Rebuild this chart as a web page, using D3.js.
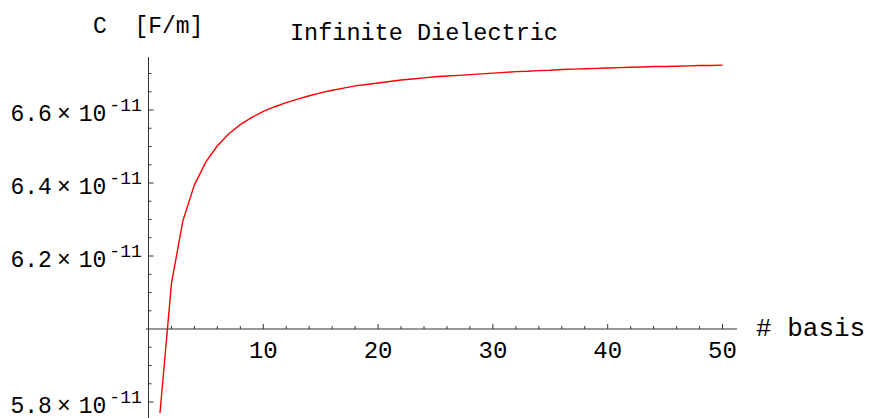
<!DOCTYPE html>
<html><head><meta charset="utf-8">
<script src="https://cdn.jsdelivr.net/npm/d3@7"></script>
<style>body{margin:0;background:#fff}svg{display:block}</style>
</head><body>
<svg id="c" width="869" height="418"></svg>
<script>
const basisCounts = d3.range(1, 51);
const capacitance = [
 5.770, 6.125, 6.297, 6.395, 6.458, 6.502, 6.535, 6.560, 6.580, 6.596,
 6.609, 6.620, 6.630, 6.639, 6.647, 6.654, 6.660, 6.666, 6.670, 6.674,
 6.678, 6.682, 6.685, 6.688, 6.691, 6.693, 6.695, 6.697, 6.699, 6.701,
 6.703, 6.705, 6.706, 6.708, 6.709, 6.711, 6.712, 6.713, 6.714, 6.715,
 6.716, 6.717, 6.718, 6.719, 6.719, 6.720, 6.721, 6.722, 6.722, 6.723
]; // units of 1e-11 F/m
const exponent = -11;
const xMajorTicks = [10, 20, 30, 40, 50];
const yMajorTicks = [5.8, 6.2, 6.4, 6.6];
const titleText = "Infinite Dielectric";
const xLabel = "# basis";
const yLabel = "C  [F/m]";

const svg = d3.select("#c");
const x = d3.scaleLinear().domain([0, 50]).range([148.5, 722.5]);
const y = d3.scaleLinear().domain([6.0, 6.6]).range([329, 110]);
const axisColor = "#333";
const mono = "Liberation Mono";

// x axis line
svg.append("line").attr("x1", 146).attr("x2", 737).attr("y1", y(6.0)).attr("y2", y(6.0))
  .attr("stroke", axisColor).attr("stroke-width", 1);
// y axis line
svg.append("line").attr("x1", x(0)).attr("x2", x(0)).attr("y1", 57).attr("y2", 418)
  .attr("stroke", axisColor).attr("stroke-width", 1);

// x ticks
const xMinor = d3.range(2, 51, 2).filter(v => !xMajorTicks.includes(v));
svg.selectAll(".xmin").data(xMinor).join("line")
  .attr("x1", d => x(d)).attr("x2", d => x(d)).attr("y1", y(6.0)).attr("y2", y(6.0) - 3)
  .attr("stroke", axisColor);
svg.selectAll(".xmaj").data(xMajorTicks).join("line")
  .attr("x1", d => x(d)).attr("x2", d => x(d)).attr("y1", y(6.0)).attr("y2", y(6.0) - 5)
  .attr("stroke", axisColor);
svg.selectAll(".xlab").data(xMajorTicks).join("text")
  .attr("x", d => x(d)).attr("y", 358).attr("text-anchor", "middle")
  .attr("font-family", mono).attr("font-size", 24).attr("fill", "#000")
  .text(d => d);

// y ticks
const yMinor = d3.range(0, 20).map(i => +(5.75 + i * 0.05).toFixed(2))
  .filter(v => !yMajorTicks.includes(v) && v !== 6.0);
svg.selectAll(".ymin").data(yMinor).join("line")
  .attr("x1", x(0)).attr("x2", x(0) + 3).attr("y1", d => y(d)).attr("y2", d => y(d))
  .attr("stroke", axisColor);
svg.selectAll(".ymaj").data(yMajorTicks).join("line")
  .attr("x1", x(0)).attr("x2", x(0) + 5).attr("y1", d => y(d)).attr("y2", d => y(d))
  .attr("stroke", axisColor);
const yl = svg.selectAll(".ylab").data(yMajorTicks).join("text")
  .attr("x", 10.5).attr("y", d => y(d) + 11)
  .attr("font-family", mono).attr("font-size", 23).attr("fill", "#000");
yl.append("tspan").text(d => d.toFixed(1));
yl.append("tspan").attr("dx", 5).text("\u00d7");
yl.append("tspan").attr("dx", 8).text("10");
yl.append("tspan").attr("dx", 3).attr("dy", -10).attr("font-size", 18).text("-" + Math.abs(exponent));

// curve
svg.append("path")
  .datum(basisCounts.map((n, i) => [n, capacitance[i]]))
  .attr("fill", "none").attr("stroke", "#ff0000").attr("stroke-width", 1.4)
  .attr("d", d3.line().x(d => x(d[0])).y(d => y(d[1])));

// labels
svg.append("text").attr("x", 93).attr("y", 33).attr("font-family", mono).attr("font-size", 23)
  .style("white-space", "pre").text(yLabel);
svg.append("text").attr("x", 290).attr("y", 40).attr("font-family", mono).attr("font-size", 23.5)
  .text(titleText);
svg.append("text").attr("x", 756).attr("y", 336).attr("font-family", mono).attr("font-size", 26)
  .style("white-space", "pre").text(xLabel);
</script>
</body></html>
